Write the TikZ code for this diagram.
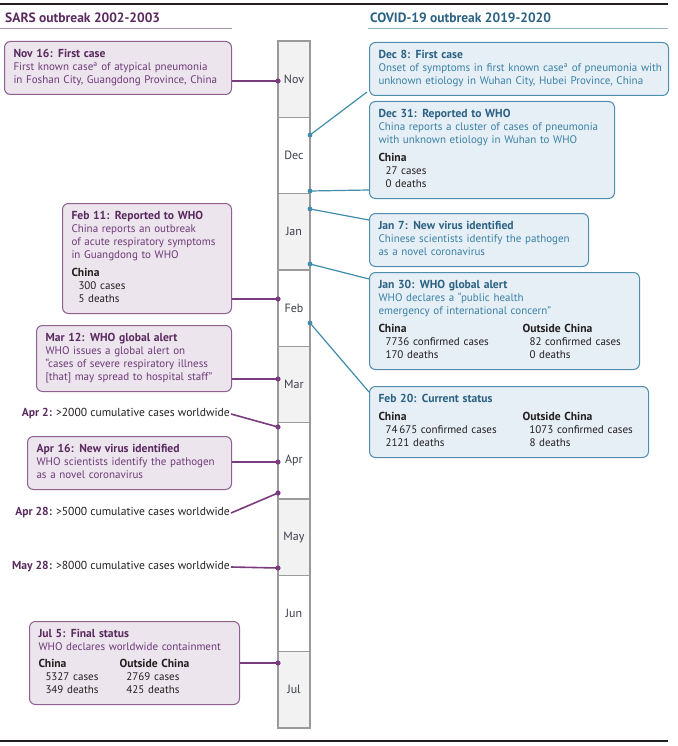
\documentclass[tikz,border=0pt]{standalone}
\usepackage{fontspec}
\setmainfont{PT Sans}
\usepackage{tikz}
\usetikzlibrary{positioning, calc}

\definecolor{sarsedge}{HTML}{8E6192}
\definecolor{sarsfill}{HTML}{ECE5ED}
\definecolor{sarstitle}{HTML}{5A2A5F}
\definecolor{sarstext}{HTML}{6E3A78}
\definecolor{sarslink}{HTML}{7A3C7E}
\definecolor{sarsrule}{HTML}{A995AE}
\definecolor{covedge}{HTML}{4F8FAE}
\definecolor{covfill}{HTML}{E6EEF6}
\definecolor{covtitle}{HTML}{2B6283}
\definecolor{covtext}{HTML}{3A82A4}
\definecolor{covlink}{HTML}{3F8CAB}
\definecolor{covrule}{HTML}{93B4C6}
\definecolor{cellgray}{HTML}{F2F2F2}
\definecolor{celledge}{HTML}{9A9A9A}
\definecolor{monthtext}{HTML}{3C3E4C}
\definecolor{ink}{HTML}{231F20}

\newcommand{\bodyfont}{\fontsize{11}{13}\selectfont}
\newcommand{\hd}[1]{{\fontsize{11.6}{13}\selectfont\bfseries #1}}
\newcommand{\ind}{\hspace*{7pt}}
\newcommand{\ink}{\color{ink}}
\newcommand{\twocol}[3]{\makebox[#1][l]{#2}#3}

\begin{document}
\begin{tikzpicture}[x=1pt, y=-1pt,
        sarsbox/.style={draw=sarsedge, fill=sarsfill, line width=1pt, rounded corners=6pt,
            anchor=north west, align=left, inner xsep=9pt, inner ysep=7pt, text=sarstext, font=\bodyfont},
        covbox/.style={draw=covedge, fill=covfill, line width=1pt, rounded corners=6pt,
            anchor=north west, align=left, inner xsep=9pt, inner ysep=7pt, text=covtext, font=\bodyfont},
        monthcell/.style={draw=celledge, line width=1.5pt, minimum width=32pt, minimum height=76.33pt,
            inner sep=0pt, text=monthtext, font=\fontsize{12}{14}\selectfont},
        eventtext/.style={anchor=east, inner sep=1pt, text=ink, font=\fontsize{11.6}{13}\selectfont},
        headtext/.style={anchor=base west, inner sep=0pt, font=\fontsize{13.5}{16}\selectfont\bfseries},
        sarsconn/.style={draw=sarslink, line width=2.6pt},
        eventconn/.style={draw=sarslink, line width=1.6pt},
        covconn/.style={draw=covlink, line width=1.2pt},
        sarsdot/.style={fill=sarslink},
        covdot/.style={fill=covlink}]

    \useasboundingbox (0,0) rectangle (677,746);

    \draw[ink, line width=1.2pt] (0,4) -- (668,4);
    \draw[ink, line width=1.2pt] (0,741) -- (668,741);

    \node[headtext, text=sarstitle] (sarshead) at (5,23) {SARS outbreak 2002-2003};
    \node[headtext, text=covtitle] (covhead) at (370,23) {COVID-19 outbreak 2019-2020};
    \draw[sarsrule, line width=1pt] (0,29) -- (232,29);
    \draw[covrule, line width=1pt] (368,29) -- (668,29);

    \foreach \m/\f [count=\i from 0] in {Nov/cellgray, Dec/white, Jan/cellgray, Feb/white, Mar/cellgray,
            Apr/white, May/cellgray, Jun/white, Jul/cellgray}
        \node[monthcell, fill=\f] (m\m) at (294,{41+76.33*\i+38.17}) {\m};

    \coordinate (tNov16) at (278,81);
    \coordinate (tFeb11) at (278,299);
    \coordinate (tMar12) at (278,379);
    \coordinate (tApr2) at (278,427);
    \coordinate (tApr16) at (278,462);
    \coordinate (tApr28) at (278,493);
    \coordinate (tMay28) at (278,568);
    \coordinate (tJul5) at (278,663);
    \coordinate (tDec8) at (310,135);
    \coordinate (tDec31) at (310,191);
    \coordinate (tJan7) at (310,209);
    \coordinate (tJan30) at (310,264);
    \coordinate (tFeb20) at (310,323);

    \node[sarsbox, text width=209pt] (nov16) at (4,41)
        {\begin{tabular}{@{}l@{}}
         \textcolor{sarstitle}{\hd{Nov 16: First case}}\\
         First known case\textsuperscript{a} of atypical pneumonia\\
         in Foshan City, Guangdong Province, China
         \end{tabular}};
    \node[sarsbox, text width=151pt] (feb11) at (62,203)
        {\begin{tabular}{@{}l@{}}
         \textcolor{sarstitle}{\hd{Feb 11: Reported to WHO}}\\
         China reports an outbreak\\
         of acute respiratory symptoms\\
         in Guangdong to WHO\\[5pt]
         \ink\hd{China}\\
         \ink\ind 300 cases\\
         \ink\ind 5 deaths
         \end{tabular}};
    \node[sarsbox, text width=177pt] (mar12) at (36,325)
        {\begin{tabular}{@{}l@{}}
         \textcolor{sarstitle}{\hd{Mar 12: WHO global alert}}\\
         WHO issues a global alert on\\
         “cases of severe respiratory illness\\
         \relax[that] may spread to hospital staff”
         \end{tabular}};
    \node[sarsbox, text width=186pt] (apr16) at (27,436)
        {\begin{tabular}{@{}l@{}}
         \textcolor{sarstitle}{\hd{Apr 16: New virus identified}}\\
         WHO scientists identify the pathogen\\
         as a novel coronavirus
         \end{tabular}};
    \node[sarsbox, text width=192pt] (jul5) at (29,621)
        {\begin{tabular}{@{}l@{}}
         \textcolor{sarstitle}{\hd{Jul 5: Final status}}\\
         WHO declares worldwide containment\\[4pt]
         \ink\twocol{81pt}{\hd{China}}{\hd{Outside China}}\\
         \ink\twocol{81pt}{\ind 5327 cases}{\ind 2769 cases}\\
         \ink\twocol{81pt}{\ind 349 deaths}{\ind 425 deaths}
         \end{tabular}};

    \node[eventtext] (apr2) at (231,414) {\textcolor{sarstitle}{\bfseries Apr 2:} >2000 cumulative cases worldwide};
    \node[eventtext] (apr28) at (231,513) {\textcolor{sarstitle}{\bfseries Apr 28:} >5000 cumulative cases worldwide};
    \node[eventtext] (may28) at (231,567) {\textcolor{sarstitle}{\bfseries May 28:} >8000 cumulative cases worldwide};

    \node[covbox, text width=281pt] (dec8) at (369,42)
        {\begin{tabular}{@{}l@{}}
         \textcolor{covtitle}{\hd{Dec 8: First case}}\\
         Onset of symptoms in first known case\textsuperscript{a} of pneumonia with\\
         unknown etiology in Wuhan City, Hubei Province, China
         \end{tabular}};
    \node[covbox, text width=227pt] (dec31) at (369,101)
        {\begin{tabular}{@{}l@{}}
         \textcolor{covtitle}{\hd{Dec 31: Reported to WHO}}\\
         China reports a cluster of cases of pneumonia\\
         with unknown etiology in Wuhan to WHO\\[5pt]
         \ink\hd{China}\\
         \ink\ind 27 cases\\
         \ink\ind 0 deaths
         \end{tabular}};
    \node[covbox, text width=201pt] (jan7) at (369,213)
        {\begin{tabular}{@{}l@{}}
         \textcolor{covtitle}{\hd{Jan 7: New virus identified}}\\
         Chinese scientists identify the pathogen\\
         as a novel coronavirus
         \end{tabular}};
    \node[covbox, text width=252pt] (jan30) at (369,272)
        {\begin{tabular}{@{}l@{}}
         \textcolor{covtitle}{\hd{Jan 30: WHO global alert}}\\
         WHO declares a “public health\\
         emergency of international concern”\\[5pt]
         \ink\twocol{144pt}{\hd{China}}{\hd{Outside China}}\\
         \ink\twocol{144pt}{\ind 7736 confirmed cases}{\ind 82 confirmed cases}\\
         \ink\twocol{144pt}{\ind 170 deaths}{\ind 0 deaths}
         \end{tabular}};
    \node[covbox, text width=261pt] (feb20) at (369,386)
        {\begin{tabular}{@{}l@{}}
         \textcolor{covtitle}{\hd{Feb 20: Current status}}\\[5pt]
         \ink\twocol{144pt}{\hd{China}}{\hd{Outside China}}\\
         \ink\twocol{144pt}{\ind 74\,675 confirmed cases}{\ind 1073 confirmed cases}\\
         \ink\twocol{144pt}{\ind 2121 deaths}{\ind 8 deaths}
         \end{tabular}};

    \draw[sarsconn] (tNov16 -| nov16.east) -- (tNov16);
    \draw[sarsconn] (tFeb11 -| feb11.east) -- (tFeb11);
    \draw[sarsconn] (tMar12 -| mar12.east) -- (tMar12);
    \draw[sarsconn] (tApr16 -| apr16.east) -- (tApr16);
    \draw[sarsconn] (tJul5 -| jul5.east) -- (tJul5);
    \draw[eventconn] (apr2.east) -- (tApr2);
    \draw[eventconn] (apr28.east) -- (tApr28);
    \draw[eventconn] (may28.east) -- (tMay28);
    \foreach \t in {tNov16, tFeb11, tMar12, tApr2, tApr16, tApr28, tMay28, tJul5}
        \fill[sarsdot] (\t) circle (2.6pt);

    \draw[covconn] (tDec8) -- ([xshift=-2pt, yshift=4pt]dec8.south west);
    \draw[covconn] (tDec31) -- ([yshift=9pt]dec31.south west);
    \draw[covconn] (tJan7) -- ([yshift=-7pt]jan7.north west);
    \draw[covconn] (tJan30) -- ([yshift=-7pt]jan30.north west);
    \draw[covconn] (tFeb20) -- ([yshift=-6pt]feb20.north west);
    \foreach \t in {tDec8, tDec31, tJan7, tJan30, tFeb20}
        \fill[covdot] (\t) circle (2.4pt);
\end{tikzpicture}
\end{document}
